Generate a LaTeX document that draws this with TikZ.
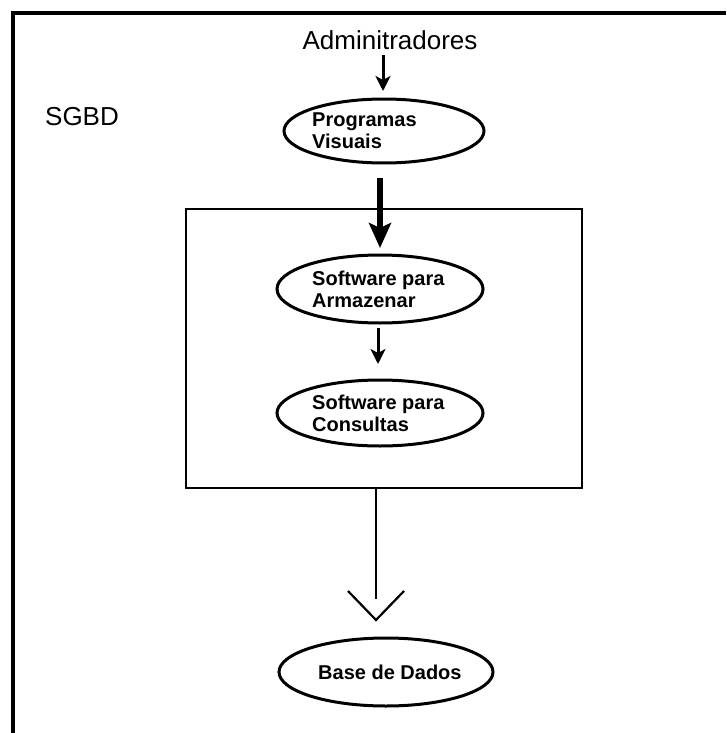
\documentclass[tikz,border=0pt]{standalone}
\usepackage{fontspec}
\setmainfont{Liberation Sans}
\usetikzlibrary{shapes.geometric,arrows.meta}
\begin{document}
\begin{tikzpicture}[x=1pt,y=-1pt,
  oval/.style={ellipse,draw,line width=3pt,inner sep=0pt},
  label/.style={font=\fontsize{20}{22}\selectfont\bfseries,align=left,inner sep=0pt,anchor=west},
  plain/.style={font=\fontsize{26}{30}\selectfont,inner sep=0pt},
  arr/.style={line width=3pt,-{Stealth[length=15pt,width=15pt,inset=4pt]}},
  bigarr/.style={line width=6.5pt,-{Stealth[length=25pt,width=22pt,inset=5pt]}}]
\useasboundingbox (0,0) rectangle (726,733);
% frame edges
\draw[line width=4pt] (13,733) -- (13,13) -- (726,13);
% SGBD block
\draw[line width=2.8pt] (186,209) rectangle (582,488);

\node[plain] (sgbd) at (82,117) {SGBD};
\node[plain] (adm) at (390,40) {Adminitradores};

\node[oval,minimum width=200pt,minimum height=64pt] (prog) at (384,131) {};
\node[label] (progt) at (312,131) {Programas\\Visuais};

\node[oval,minimum width=206pt,minimum height=68pt] (arm) at (380,289) {};
\node[label] (armt) at (312,289) {Software para\\Armazenar};

\node[oval,minimum width=206pt,minimum height=66pt] (cons) at (380,413) {};
\node[label] (const) at (312,413) {Software para\\Consultas};

\node[oval,minimum width=214pt,minimum height=68pt] (base) at (386,672) {};
\node[label] (baset) at (318,672) {Base de Dados};

\coordinate (admend) at (383,55);
\coordinate (admtip) at (383,91);
\draw[arr] (admend) -- (admtip);

\coordinate (progend) at (380,178);
\coordinate (progtip) at (380,248);
\draw[bigarr] (progend) -- (progtip);

\coordinate (armend) at (378,328);
\coordinate (armtip) at (378,364);
\draw[arr] (armend) -- (armtip);

% open-headed connector down to the database
\coordinate (boxbot) at (376,488);
\coordinate (vtip) at (376,620);
\draw[line width=2.8pt] (boxbot) -- (376,599);
\draw[line width=2.2pt] (348,591) -- (vtip) -- (404,591);
\end{tikzpicture}
\end{document}
